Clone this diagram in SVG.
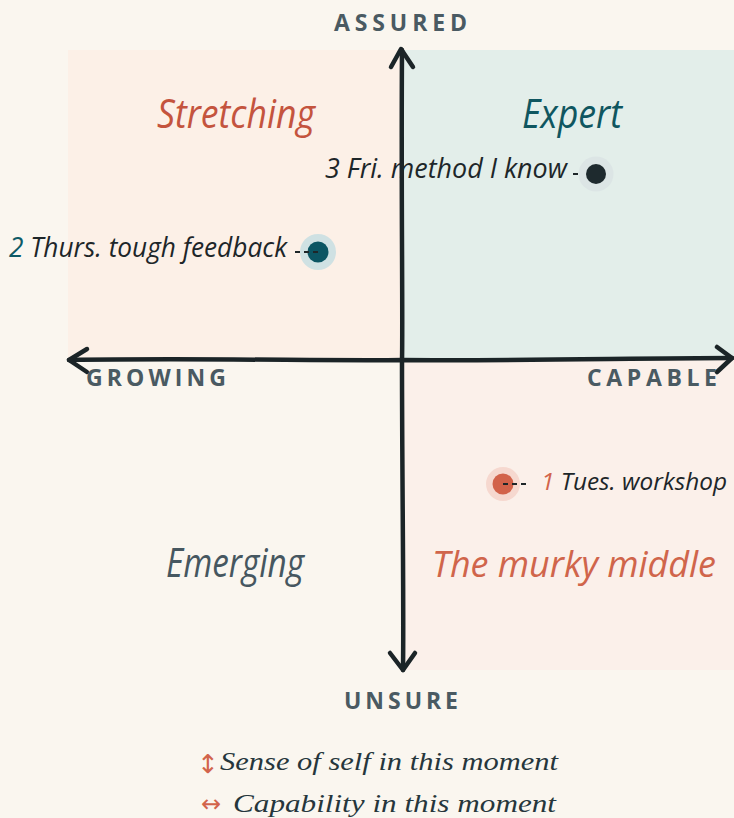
<svg xmlns="http://www.w3.org/2000/svg" width="734" height="818" viewBox="0 0 734 818">
<style>
.axis{font-family:"Open Sans","Liberation Sans",sans-serif;font-weight:700;font-size:23px;fill:#4a5a62}
.hand{font-family:"Open Sans","Liberation Sans",sans-serif;font-style:italic;font-weight:500}
.q{font-size:40px}
.pt{font-size:27px;fill:#1d2629}
.leg{font-family:"Liberation Serif","DejaVu Serif",serif;font-style:italic;font-size:26px;fill:#26363c}
.arr{font-family:"DejaVu Sans",sans-serif;fill:#d2644b}
.ax{fill:none;stroke:#1b2427;stroke-width:4.5;stroke-linecap:round;stroke-linejoin:round}
.dash{stroke:#1d2629;stroke-width:2;stroke-dasharray:5 4}
</style>
<rect width="734" height="818" fill="#faf6ef"/>
<g id="quadrants">
<rect id="q-stretching" x="68" y="50" width="334" height="310" fill="#fcf0e7"/>
<rect id="q-expert" x="402" y="50" width="332" height="310" fill="#e3eeea"/>
<rect id="q-murky" x="402" y="360" width="332" height="310" fill="#fbf0ea"/>
</g>
<g id="connectors">
<path class="ax" d="M402,50 C401,200 403,320 402,360 C402,480 404,600 403,670"/>
<path class="ax" d="M391,67 L401,49 L413,67"/>
<path class="ax" d="M390,653 L403,670 L415,653"/>
<path class="ax" d="M69,360 C200,358 330,361 402,360 C520,361 640,358 732,358"/>
<path class="ax" d="M87,349 L69,360 L87,372"/>
<path class="ax" d="M717,347 L732,358 L717,372"/>
</g>
<g id="axis-labels">
<text id="l-assured" class="axis" x="334" y="31" textLength="133" lengthAdjust="spacing">ASSURED</text>
<text id="l-growing" class="axis" x="86" y="386" textLength="140" lengthAdjust="spacing">GROWING</text>
<text id="l-capable" class="axis" x="587" y="386" textLength="130" lengthAdjust="spacing">CAPABLE</text>
<text id="l-unsure" class="axis" x="344" y="709" textLength="114" lengthAdjust="spacing">UNSURE</text>
</g>
<g id="quadrant-labels">
<text id="t-stretching" class="hand q" x="157" y="128" fill="#c4543e" textLength="158" lengthAdjust="spacingAndGlyphs">Stretching</text>
<text id="t-expert" class="hand q" x="522" y="128" fill="#0f5660" textLength="100" lengthAdjust="spacingAndGlyphs">Expert</text>
<text id="t-emerging" class="hand q" x="166" y="577" fill="#465760" textLength="138" lengthAdjust="spacingAndGlyphs">Emerging</text>
<text id="t-murky" class="hand" x="432" y="577" fill="#d0654b" font-size="36" textLength="284" lengthAdjust="spacingAndGlyphs">The murky middle</text>
</g>
<g id="point-3">
<line class="dash" x1="573" y1="174" x2="596" y2="174"/>
<circle cx="596" cy="174" r="17.5" fill="#dce5e5"/>
<circle cx="596" cy="174" r="10" fill="#1e2a2e"/>
<text class="hand pt" x="325" y="178" textLength="242" lengthAdjust="spacingAndGlyphs">3 Fri. method I know</text>
</g>
<g id="point-2">
<circle cx="318" cy="252" r="18" fill="#cfe1e3"/>
<circle cx="318" cy="252" r="10.5" fill="#0b5563"/>
<line class="dash" x1="295" y1="252" x2="318" y2="252"/>
<text class="hand pt" x="9" y="257" textLength="278" lengthAdjust="spacingAndGlyphs"><tspan fill="#0d5a66">2</tspan> Thurs. tough feedback</text>
</g>
<g id="point-1">
<circle cx="503" cy="484" r="17" fill="#f6d8cf"/>
<circle cx="503" cy="484" r="10.5" fill="#d2624a"/>
<line class="dash" x1="503" y1="484" x2="527" y2="484"/>
<text class="hand" x="541" y="490" fill="#1d2629" font-size="24" textLength="186" lengthAdjust="spacingAndGlyphs"><tspan fill="#d2644b">1</tspan> Tues. workshop</text>
</g>
<g id="legend">
<text class="arr" x="197" y="773" font-size="26">↕</text>
<text class="leg" x="220" y="770" textLength="338" lengthAdjust="spacingAndGlyphs">Sense of self in this moment</text>
<text class="arr" x="201" y="812" font-size="24">↔</text>
<text class="leg" x="233" y="812" textLength="323" lengthAdjust="spacingAndGlyphs">Capability in this moment</text>
</g>
</svg>
